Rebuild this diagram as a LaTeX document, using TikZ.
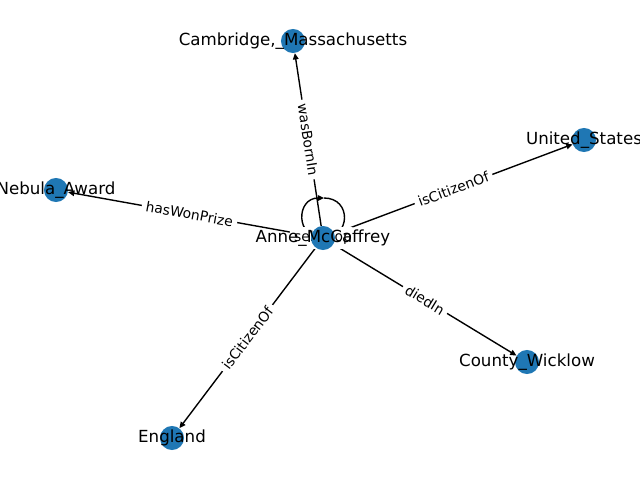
\documentclass[tikz,border=0pt]{standalone}
\usepackage{fontspec}
\setmainfont{DejaVu Sans}
\usetikzlibrary{arrows.meta,backgrounds}
\definecolor{nodeblue}{HTML}{1F77B4}

\begin{document}
\begin{tikzpicture}[x=0.72pt,y=-0.72pt]
\tikzstyle{entity} = [circle, fill=nodeblue, minimum size=17.3pt, inner sep=0pt]
\tikzstyle{entname} = [font=\fontsize{12}{14}\selectfont, inner sep=0pt]
\tikzstyle{line} = [draw, line width=1pt, -{Triangle[length=4.5pt,width=4pt]}]
\tikzstyle{rel} = [font=\fontsize{10}{12}\selectfont, fill=white,
rounded corners=3pt, inner sep=3pt]
\useasboundingbox (0,0) rectangle (640,480);
% entities
\node [entity] (anne) at (323,238) {};
\node [entity] (cambridge) at (293,41) {};
\node [entity] (usa) at (584,140) {};
\node [entity] (nebula) at (56,190) {};
\node [entity] (wicklow) at (527,362) {};
\node [entity] (england) at (172,438) {};
% names
\node [entname] (anne-t) at (anne) {Anne\_McCaffrey};
\node [entname] (cambridge-t) at (cambridge) {Cambridge,\_Massachusetts};
\node [entname] (usa-t) at (usa) {United\_States};
\node [entname] (nebula-t) at (nebula) {Nebula\_Award};
\node [entname] (wicklow-t) at (wicklow) {County\_Wicklow};
\node [entname] (england-t) at (england) {England};
% relations
\begin{scope}[on background layer]
\path [line] (anne) -- node [rel, sloped, midway] {wasBornIn} (cambridge);
\path [line] (anne) -- node [rel, sloped, midway] {isCitizenOf} (usa);
\path [line] (anne) -- node [rel, sloped, midway] {hasWonPrize} (nebula);
\path [line] (anne) -- node [rel, sloped, midway] {diedIn} (wicklow);
\path [line] (anne) -- node [rel, sloped, midway] {isCitizenOf} (england);
\coordinate (looptop) at (324,198);
\path [line] (looptop) .. controls +(28,0) and +(28,0) .. (anne.center)
 .. controls +(-28,0) and +(-28,0) .. (looptop);
\node [rel] (selfloop) at (anne) {selfLoop};
\end{scope}
\end{tikzpicture}
\end{document}
